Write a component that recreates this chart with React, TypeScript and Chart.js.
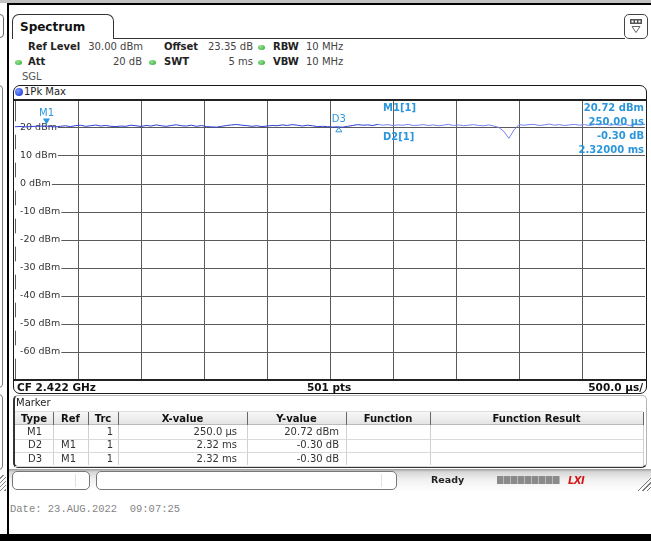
import React, { useEffect, useRef } from "react";
import { Chart, registerables } from "chart.js";

Chart.register(...registerables);

// ---------- data ----------
const SWEEP_MS = 5;
const REF_LEVEL_DBM = 30;
const BOTTOM_LEVEL_DBM = -70;
const Y_STEP_DB = 10;
const X_DIV_MS = 0.5;
const HIDDEN_TICKS = [30, -70];

const traceDbm = [
  20.45, 20.55, 20.4, 20.5, 20.6, 20.65, 20.72, 20.5, 20.4, 20.6,
  20.8, 20.5, 20.85, 21.0, 20.6, 20.8, 21.05, 20.7, 20.9, 20.6,
  20.5, 20.7, 20.6, 21.0, 20.8, 20.55, 20.9, 20.7, 21.1, 20.8,
  20.6, 20.9, 21.15, 20.8, 20.7, 21.0, 20.6, 20.9, 20.5, 20.4,
  20.3, 20.6, 20.9, 21.1, 21.25, 21.0, 20.85, 20.6, 20.8, 20.5,
  20.7, 20.9, 20.8, 21.1, 20.9, 21.2, 21.0, 20.7, 21.0, 20.8,
  20.5, 20.6, 20.5, 20.35, 20.42, 20.3, 20.6, 20.9, 21.2, 21.0,
  21.1, 20.9, 21.3, 21.0, 21.2, 20.9, 21.1, 21.0, 21.3, 20.9,
  21.0, 21.2, 20.9, 21.1, 20.8, 21.0, 21.3, 20.9, 21.1, 20.8,
  21.0, 21.2, 20.9, 20.8, 21.1, 20.7, 20.2, 18.8, 16.3, 19.3,
  21.2, 21.0, 21.2, 21.3, 20.9, 21.1, 21.4, 21.0, 21.2, 20.9,
  21.1, 21.3, 21.0, 21.2, 20.9, 21.3, 21.1, 21.4, 21.0, 21.2,
  21.0, 21.3, 20.9, 21.2, 21.1, 21.3,
];

const m1TimeMs = 0.25;
const m1LevelDbm = 20.72;
const d3TimeMs = 2.57;
const d3LevelDbm = 20.42;

const markerInfoLeft = ["M1[1]", "D2[1]"];
const markerInfoRight = ["20.72 dBm", "250.00 µs", "-0.30 dB", "2.32000 ms"];

const tableHeaders = ["Type", "Ref", "Trc", "X-value", "Y-value", "Function", "Function Result"];
const markerTypes = ["M1", "D2", "D3"];
const markerRefs = ["", "M1", "M1"];
const markerTrcs = ["1", "1", "1"];
const markerXValues = ["250.0 µs", "2.32 ms", "2.32 ms"];
const markerYValues = ["20.72 dBm", "-0.30 dB", "-0.30 dB"];

// ---------- style ----------
const W = 651;
const H = 541;
const FONT = '"DejaVu Sans", Verdana, sans-serif';
const MBLUE = "#2b96dc";
const TRACE_DARK = "#2f3fd4";
const TRACE_LIGHT = "#7680f2";
const GRID = "#5a5a5a";

const T = ({ x, y, s = 10, b = false, c = "#222", a = "left", f = FONT, children }: any) => {
  const style: any = {
    position: "absolute",
    top: y,
    fontFamily: f,
    fontSize: s,
    fontWeight: b ? "bold" : "normal",
    color: c,
    lineHeight: 1,
    whiteSpace: "pre",
    transform: "translateY(-50%)",
  };
  if (a === "left") style.left = x;
  else if (a === "right") style.right = W - x;
  else {
    style.left = x;
    style.transform = "translate(-50%,-50%)";
  }
  return <div style={style}>{children}</div>;
};

const Box = ({ l, t, w, h, style }: any) => (
  <div style={{ position: "absolute", left: l, top: t, width: w, height: h, boxSizing: "border-box", ...style }} />
);

const GreenDot = ({ x, y }: any) => (
  <div
    style={{
      position: "absolute",
      left: x,
      top: y - 2.5,
      width: 7,
      height: 5,
      borderRadius: "50%",
      background: "radial-gradient(circle at 40% 35%, #8fe88f, #2f9e34)",
    }}
  />
);

const zeroFit = (isY: boolean) => (scale: any) => {
  scale.paddingTop = 0;
  scale.paddingBottom = 0;
  scale.paddingLeft = 0;
  scale.paddingRight = 0;
  if (isY) scale.width = 0;
  else scale.height = 0;
};

const markerPlugin = {
  id: "markerPlugin",
  afterDatasetsDraw(chart: any) {
    const { ctx, scales, chartArea } = chart;
    const xs = scales.x;
    const ys = scales.y;
    ctx.save();
    ctx.fillStyle = MBLUE;
    ctx.strokeStyle = MBLUE;
    // M1
    const mx = xs.getPixelForValue(m1TimeMs);
    const my = ys.getPixelForValue(m1LevelDbm);
    ctx.beginPath();
    ctx.moveTo(mx - 3.5, my - 7.5);
    ctx.lineTo(mx + 3.5, my - 7.5);
    ctx.lineTo(mx, my - 1.5);
    ctx.closePath();
    ctx.fill();
    ctx.font = `10px ${FONT}`;
    ctx.textAlign = "center";
    ctx.textBaseline = "middle";
    ctx.fillText("M1", mx, my - 13);
    // D3 / D2
    const dx = xs.getPixelForValue(d3TimeMs);
    const dy = ys.getPixelForValue(d3LevelDbm);
    ctx.fillText("D3", dx, dy - 7.5);
    ctx.lineWidth = 1;
    ctx.beginPath();
    ctx.moveTo(dx, dy + 0.5);
    ctx.lineTo(dx + 3, dy + 5);
    ctx.lineTo(dx - 3, dy + 5);
    ctx.closePath();
    ctx.stroke();
    // info texts
    ctx.font = `bold 10px ${FONT}`;
    ctx.textAlign = "left";
    ctx.fillText(markerInfoLeft[0], chartArea.left + 368, chartArea.top + 8);
    ctx.fillText(markerInfoLeft[1], chartArea.left + 368, chartArea.top + 37);
    ctx.textAlign = "right";
    const offs = [8, 22, 36, 50];
    markerInfoRight.forEach((t, i) => ctx.fillText(t, chartArea.right - 1, chartArea.top + offs[i]));
    ctx.restore();
  },
};

function SpectrumChart() {
  const ref = useRef<HTMLCanvasElement>(null);
  useEffect(() => {
    if (!ref.current) return;
    const n = traceDbm.length;
    const points = traceDbm.map((v, i) => ({ x: (i * SWEEP_MS) / (n - 1), y: v }));
    const chart = new Chart(ref.current, {
      type: "line",
      data: {
        datasets: [
          {
            data: points,
            borderColor: TRACE_DARK,
            borderWidth: 1,
            pointRadius: 0,
            tension: 0,
            segment: {
              borderColor: (c: any) => (c.p0.parsed.x < 2.85 ? TRACE_DARK : TRACE_LIGHT),
            },
          } as any,
        ],
      },
      options: {
        animation: false,
        responsive: false,
        maintainAspectRatio: false,
        layout: { padding: 0, autoPadding: false } as any,
        plugins: { legend: { display: false }, tooltip: { enabled: false } },
        scales: {
          x: {
            type: "linear",
            min: 0,
            max: SWEEP_MS,
            ticks: { display: false, stepSize: X_DIV_MS },
            grid: { color: GRID, lineWidth: 1, drawTicks: false },
            border: { display: false },
            afterFit: zeroFit(false),
          },
          y: {
            type: "linear",
            min: BOTTOM_LEVEL_DBM,
            max: REF_LEVEL_DBM,
            ticks: {
              stepSize: Y_STEP_DB,
              mirror: true,
              padding: 5,
              color: "#333",
              font: { family: FONT, size: 9.5 },
              showLabelBackdrop: true,
              backdropColor: (c: any) =>
                c.tick && HIDDEN_TICKS.includes(c.tick.value) ? "rgba(0,0,0,0)" : "#ffffff",
              backdropPadding: { left: 5, right: 1, top: 1, bottom: 1 },
              callback: (v: any) => (HIDDEN_TICKS.includes(Number(v)) ? "" : `${v} dBm`),
            } as any,
            grid: { color: GRID, lineWidth: 1, drawTicks: false },
            border: { display: false },
            afterFit: zeroFit(true),
          },
        },
      },
      plugins: [markerPlugin],
    } as any);
    return () => chart.destroy();
  }, []);
  return (
    <div style={{ position: "absolute", left: 15, top: 100, width: 630, height: 280 }}>
      <canvas ref={ref} width={630} height={280} style={{ width: 630, height: 280, display: "block" }} />
    </div>
  );
}

const cols = [15, 53, 88, 118, 247, 346, 430, 643];
const rightPads = [11, 12, 5, 10, 7];
const rowTops = [425, 438.5, 452];
const rowH = 13.5;

export default function App() {
  const rows = markerTypes.map((t, i) => [t, markerRefs[i], markerTrcs[i], markerXValues[i], markerYValues[i]]);
  return (
    <div
      style={{
        position: "fixed",
        left: 0,
        top: 0,
        width: W,
        height: H,
        background: "#fff",
        overflow: "hidden",
        fontFamily: FONT,
      }}
    >
      {/* frame */}
      <Box l={0} t={0} w={W} h={3} style={{ background: "#c2c2c2" }} />
      <Box l={7} t={3} w={W - 7} h={2} style={{ background: "#000" }} />
      <Box l={7} t={3} w={2} h={H} style={{ background: "#000" }} />
      <Box l={0} t={534} w={W} h={7} style={{ background: "#000" }} />
      {/* left margin panels */}
      <Box l={-8} t={14} w={12} h={24} style={{ border: "1px solid #666", borderRadius: 4 }} />
      <Box l={-8} t={85} w={11} h={303} style={{ border: "1px solid #777", borderRadius: 4 }} />
      <Box l={-8} t={394} w={11} h={76} style={{ border: "1px solid #777", borderRadius: 4 }} />
      <Box
        l={0}
        t={475}
        w={6}
        h={16}
        style={{ background: "repeating-linear-gradient(135deg, transparent 0 2px, #888 2px 3px)" }}
      />

      {/* Spectrum tab */}
      <Box
        l={12}
        t={14}
        w={102}
        h={25}
        style={{ border: "1.5px solid #333", borderBottom: "none", borderRadius: "7px 7px 0 0" }}
      />
      <Box l={113} t={37.5} w={512} h={1.5} style={{ background: "#333" }} />
      <T x={20} y={27} s={12} b c="#111">Spectrum</T>
      {/* icon */}
      <Box
        l={624}
        t={14}
        w={24}
        h={25}
        style={{ border: "1.5px solid #444", borderRadius: 5, background: "#fff" }}
      />
      <svg style={{ position: "absolute", left: 624, top: 14 }} width={24} height={25}>
        <rect x={6} y={5} width={12} height={5} fill="#555" />
        <rect x={7.5} y={6.5} width={2} height={2} fill="#fff" />
        <rect x={11} y={6.5} width={2} height={2} fill="#fff" />
        <rect x={14.5} y={6.5} width={2} height={2} fill="#fff" />
        <path d="M8 12.5 L16 12.5 L12 18.5 Z" fill="none" stroke="#666" strokeWidth={1} />
      </svg>

      {/* header info */}
      <T x={28} y={47} b>Ref Level</T>
      <T x={143} y={47} a="right" c="#444">30.00 dBm</T>
      <T x={164} y={47} b>Offset</T>
      <T x={253} y={47} a="right" c="#444">23.35 dB</T>
      <GreenDot x={258} y={47} />
      <T x={273} y={47} b>RBW</T>
      <T x={306} y={47} c="#444">10 MHz</T>

      <GreenDot x={15} y={62} />
      <T x={28} y={62} b>Att</T>
      <T x={142} y={62} a="right" c="#444">20 dB</T>
      <GreenDot x={149} y={62} />
      <T x={164} y={62} b>SWT</T>
      <T x={253} y={62} a="right" c="#444">5 ms</T>
      <GreenDot x={258} y={62} />
      <T x={273} y={62} b>VBW</T>
      <T x={306} y={62} c="#444">10 MHz</T>

      <T x={22} y={77} c="#555">SGL</T>

      {/* plot box */}
      <Box
        l={13}
        t={85}
        w={634}
        h={309}
        style={{ border: "1.5px solid #1a1a1a", borderRadius: 7, background: "#fff" }}
      />
      <div
        style={{
          position: "absolute",
          left: 15,
          top: 88,
          width: 8,
          height: 8,
          borderRadius: "50%",
          background: "radial-gradient(circle at 35% 35%, #7f9bff, #0b2bd8)",
        }}
      />
      <T x={24} y={92} c="#222">1Pk Max</T>
      <SpectrumChart />
      <Box l={14} t={99} w={632} h={1.5} style={{ background: "#222" }} />
      <Box l={14} t={379} w={632} h={1.5} style={{ background: "#222" }} />
      <T x={17} y={386.5} s={10.5} b c="#111">CF 2.422 GHz</T>
      <T x={307} y={386.5} s={10.5} b c="#111">501 pts</T>
      <T x={643} y={386.5} s={10.5} b c="#111" a="right">500.0 µs/</T>

      {/* marker table */}
      <Box
        l={13}
        t={395}
        w={634}
        h={73}
        style={{
          border: "1px solid #b5b5b5",
          borderLeft: "2px solid #333",
          borderBottom: "2px solid #333",
          borderRadius: 5,
          background: "#fff",
        }}
      />
      <T x={16} y={403} s={10} c="#222">Marker</T>
      <Box
        l={15}
        t={411}
        w={628}
        h={14}
        style={{ background: "linear-gradient(#f7f7f7, #e4e4e4)", borderTop: "1px solid #ddd", borderBottom: "1px solid #bbb" }}
      />
      {tableHeaders.map((h, i) => (
        <T key={h} x={(cols[i] + cols[i + 1]) / 2} y={418.5} a="center" b s={10} c="#111">
          {h}
        </T>
      ))}
      {cols.slice(1).map((cx, i) => (
        <React.Fragment key={"sep" + i}>
          <Box l={cx} t={412} w={1} h={13} style={{ background: "#666" }} />
          <Box l={cx} t={425} w={1} h={40} style={{ background: "#d0d0d0" }} />
        </React.Fragment>
      ))}
      {rowTops.map((rt, i) => (
        <Box key={"rl" + i} l={15} t={rt + rowH} w={628} h={1} style={{ background: "#dadada" }} />
      ))}
      {rows.map((r, ri) =>
        r.map((txt, ci) => (
          <T
            key={ri + "-" + ci}
            x={cols[ci + 1] - rightPads[ci]}
            y={rowTops[ri] + rowH / 2}
            a="right"
            s={10}
            c="#333"
          >
            {txt}
          </T>
        ))
      )}

      {/* status bar */}
      <Box
        l={9}
        t={469}
        w={W - 9}
        h={22}
        style={{ background: "linear-gradient(#9c9c9c 0px, #d6d6d6 3px, #efefef 10px, #ffffff 22px)" }}
      />
      <Box l={12} t={471} w={78} h={19} style={{ border: "1px solid #777", borderRadius: 5, background: "#fff" }} />
      <Box l={75} t={474} w={1} h={13} style={{ background: "#e0e0e0" }} />
      <Box l={96} t={471} w={301} h={19} style={{ border: "1px solid #777", borderRadius: 5, background: "#fff" }} />
      <Box l={381} t={474} w={1} h={13} style={{ background: "#e0e0e0" }} />
      <T x={431} y={480} s={9.5} b c="#222">Ready</T>
      <Box
        l={497}
        t={476}
        w={63}
        h={8}
        style={{ background: "repeating-linear-gradient(90deg, #8a8a8a 0 6px, #b8b8b8 6px 7px)" }}
      />
      <T x={568} y={480.5} s={10} b c="#d41818" f='"DejaVu Sans", sans-serif'>
        <span style={{ fontStyle: "italic", letterSpacing: -0.5 }}>LXI</span>
      </T>
      <Box
        l={637}
        t={476}
        w={14}
        h={15}
        style={{
          background: "repeating-linear-gradient(135deg, transparent 0 2px, #777 2px 3px)",
          clipPath: "polygon(100% 0, 100% 100%, 0 100%)",
        }}
      />

      <T x={10} y={509} s={10.5} c="#858585" f='"Liberation Mono", "DejaVu Sans Mono", monospace'>
        Date: 23.AUG.2022  09:07:25
      </T>
    </div>
  );
}
